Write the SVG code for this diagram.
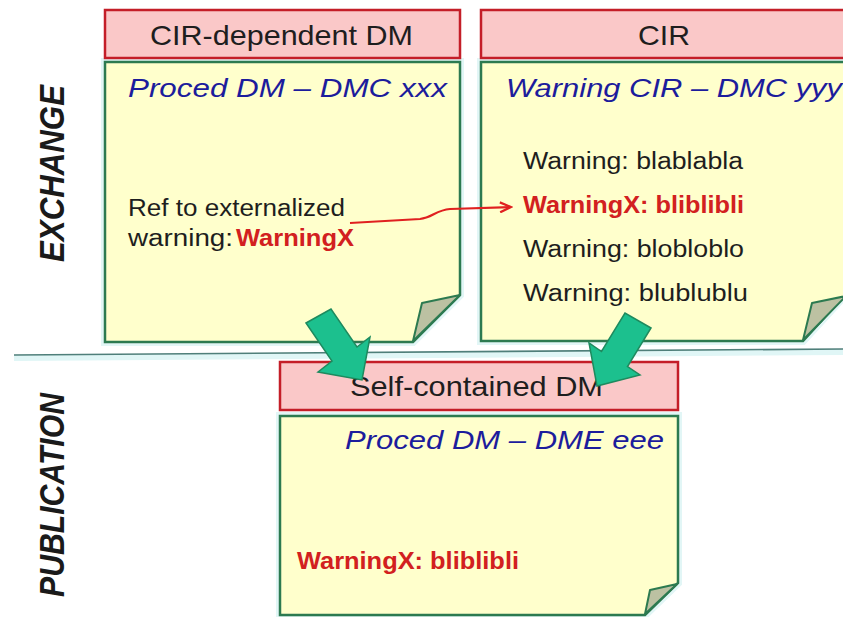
<svg xmlns="http://www.w3.org/2000/svg" width="843" height="617" viewBox="0 0 843 617">
<defs>
<style>
.hdr{fill:#fac8c8;stroke:#c41e28;stroke-width:2.5}
.note{fill:#ffffcc;stroke:#2c7a50;stroke-width:2.5;stroke-linejoin:miter}
.glow{fill:none;stroke:#e2f6f6;stroke-width:8}
.fold{fill:#bcc1a2;stroke:#2c7a50;stroke-width:2;stroke-linejoin:round}
.t{font-family:"Liberation Sans",Arial,sans-serif;fill:#1e1e1e}
.h{font-size:28px}
.b{font-size:25px;font-style:italic;fill:#1c1c9c}
.n{font-size:23.5px}
.r{font-size:23.5px;font-weight:bold;fill:#d22020}
.side{font-family:"Liberation Sans",Arial,sans-serif;font-size:35px;font-weight:bold;font-style:italic;fill:#1a1a1a}
.arr{fill:#1cc08e;stroke:#1e8a5e;stroke-width:1.5;stroke-linejoin:miter}
</style>
<marker id="open" markerWidth="14" markerHeight="12" refX="12" refY="6" orient="auto" markerUnits="userSpaceOnUse">
<path d="M1,1 L12,6 L1,11" fill="none" stroke="#e02020" stroke-width="2.2"/>
</marker>
</defs>
<rect width="843" height="617" fill="#ffffff"/>

<g id="divider">
<line x1="14" y1="358" x2="843" y2="352" stroke="#e0f6f6" stroke-width="6"/>
<line x1="14" y1="355" x2="843" y2="349" stroke="#4f7f7a" stroke-width="1.6"/>
</g>

<text class="side" transform="translate(64,262) rotate(-90)" textLength="177" lengthAdjust="spacingAndGlyphs">EXCHANGE</text>
<text class="side" transform="translate(64,597) rotate(-90)" textLength="204" lengthAdjust="spacingAndGlyphs">PUBLICATION</text>

<g id="cir-dependent-dm">
<polygon class="glow" points="105,62 460,62 460,295 413,342 105,342"/>
<rect class="hdr" x="105" y="10" width="355" height="48"/>
<text class="t h" x="150" y="45" textLength="263" lengthAdjust="spacingAndGlyphs">CIR-dependent DM</text>
<polygon class="note" points="105,62 460,62 460,295 413,342 105,342"/>
<polygon class="fold" points="413,341 460,295 422,303"/>
<text class="t b" x="128" y="97" textLength="319" lengthAdjust="spacingAndGlyphs">Proced DM – DMC xxx</text>
<text class="t n" x="128" y="216" textLength="217" lengthAdjust="spacingAndGlyphs">Ref to externalized</text>
<text class="t n" x="128" y="246" textLength="105" lengthAdjust="spacingAndGlyphs">warning:</text>
<text class="t r" x="236" y="246" textLength="118" lengthAdjust="spacingAndGlyphs">WarningX</text>
</g>

<g id="cir">
<polygon class="glow" points="481,62 847,62 847,293 803,341 481,341"/>
<rect class="hdr" x="481" y="10" width="368" height="48"/>
<text class="t h" x="638" y="45" textLength="52" lengthAdjust="spacingAndGlyphs">CIR</text>
<polygon class="note" points="481,62 847,62 847,293 803,341 481,341"/>
<polygon class="fold" points="803,340 846,296 812,303"/>
<text class="t b" x="506" y="97" textLength="336" lengthAdjust="spacingAndGlyphs">Warning CIR – DMC yyy</text>
<text class="t n" x="523" y="169" textLength="220" lengthAdjust="spacingAndGlyphs">Warning: blablabla</text>
<text class="t r" x="523" y="213" textLength="221" lengthAdjust="spacingAndGlyphs">WarningX: bliblibli</text>
<text class="t n" x="523" y="257" textLength="221" lengthAdjust="spacingAndGlyphs">Warning: blobloblo</text>
<text class="t n" x="523" y="301" textLength="225" lengthAdjust="spacingAndGlyphs">Warning: blublublu</text>
</g>

<g id="self-contained-dm">
<polygon class="glow" points="280,416 678,416 678,583 645,615 280,615"/>
<rect class="hdr" x="280" y="362" width="398" height="48"/>
<text class="t h" x="350" y="396" textLength="253" lengthAdjust="spacingAndGlyphs">Self-contained DM</text>
<polygon class="note" points="280,416 678,416 678,583 645,615 280,615"/>
<polygon class="fold" points="645,614 677,584 650,590"/>
<text class="t b" x="345" y="449" textLength="319" lengthAdjust="spacingAndGlyphs">Proced DM – DME eee</text>
<text class="t r" x="297" y="569" textLength="222" lengthAdjust="spacingAndGlyphs">WarningX: bliblibli</text>
</g>

<g id="connectors">
<path d="M350,223 L420,219 C432,218 436,210 450,209 L511,207" fill="none" stroke="#e02020" stroke-width="2.2" marker-end="url(#open)"/>
<polygon class="arr" points="306,323 331,309 357,347 370,337 362,380 318,372 332,361"/>
<polygon class="arr" points="651,328 625,313 601.5,351.5 589,343 597,386 640,375 627.5,366.5"/>
</g>
</svg>
